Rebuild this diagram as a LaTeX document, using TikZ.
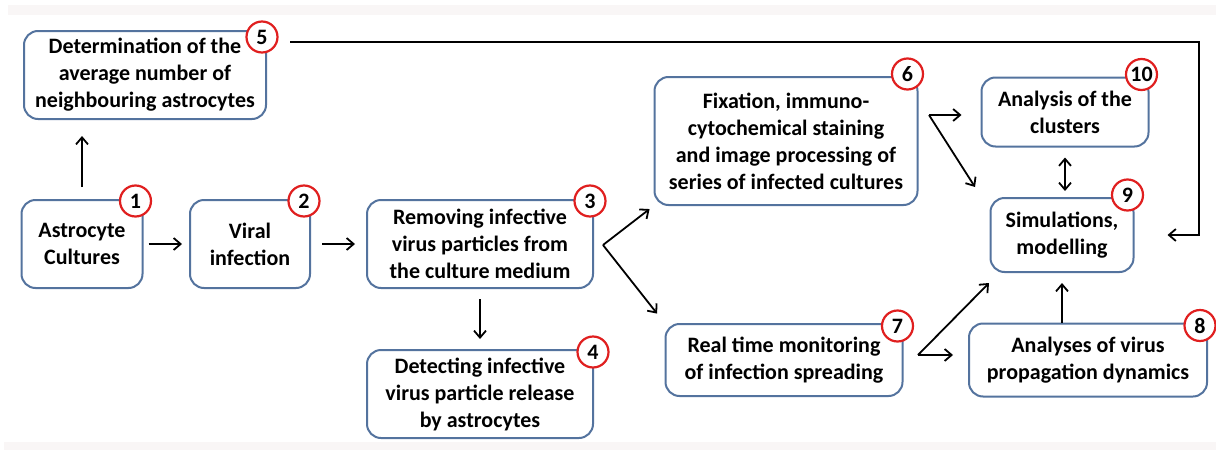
\documentclass[tikz,border=0pt]{standalone}
\usepackage{fontspec}
\setmainfont{Carlito}
\usepackage{tikz}
\usetikzlibrary{positioning, arrows.meta}

\begin{document}
\begin{tikzpicture}[x=1pt, y=-1pt,
        box/.style={draw=boxcolor, line width=2pt, rounded corners=14pt, fill=white, align=center, inner sep=0pt, font=\bfseries\fontsize{22}{27}\selectfont},
        badge/.style={draw=badgecolor, line width=2.2pt, circle, fill=white, inner sep=0pt, minimum size=31pt, font=\bfseries\fontsize{22}{22}\selectfont},
        arr/.style={-{Straight Barb[length=7pt, width=12pt]}, line width=1.8pt},
        twoarr/.style={{Straight Barb[length=7pt, width=12pt]}-{Straight Barb[length=7pt, width=12pt]}, line width=1.8pt}]
        % Define some colors for convenience
        \definecolor{boxcolor}{rgb}{0.33,0.45,0.62} % box border color
        \definecolor{badgecolor}{rgb}{0.88,0.12,0.12} % number circle color
        \definecolor{bandcolor}{rgb}{0.975,0.965,0.965} % light band color

        % Canvas
        \useasboundingbox (0,0) rectangle (1216,450);
        \fill[bandcolor] (8,5) rectangle (1216,15); % top band
        \fill[bandcolor] (4,442) rectangle (1216,450); % bottom band

        % Boxes
        \node[box, minimum width=242pt, minimum height=88pt] (b5) at (145,75) {Determination of the\\average number of\\neighbouring astrocytes}; % step 5
        \node[box, minimum width=121pt, minimum height=88pt] (b1) at (82,244) {Astrocyte\\Cultures}; % step 1
        \node[box, minimum width=120pt, minimum height=88pt] (b2) at (250,244) {Viral\\infection}; % step 2
        \node[box, minimum width=226pt, minimum height=88pt] (b3) at (480,244) {Removing infective\\virus particles from\\the culture medium}; % step 3
        \node[box, minimum width=226pt, minimum height=88pt] (b4) at (480,394) {Detecting infective\\virus particle release\\by astrocytes}; % step 4
        \node[box, minimum width=263pt, minimum height=128pt] (b6) at (786,141) {Fixation, immuno-\\cytochemical staining\\and image processing of\\series of infected cultures}; % step 6
        \node[box, minimum width=237pt, minimum height=72pt] (b7) at (784,360) {Real time monitoring\\of infection spreading}; % step 7
        \node[box, minimum width=238pt, minimum height=73pt] (b8) at (1088,360) {Analyses of virus\\propagation dynamics}; % step 8
        \node[box, minimum width=143pt, minimum height=74pt] (b9) at (1062,235) {Simulations,\\modelling}; % step 9
        \node[box, minimum width=167pt, minimum height=69pt] (b10) at (1065,112) {Analysis of the\\clusters}; % step 10

        % Number circles
        \node[badge] (n5) at ([shift={(-5,7)}]b5.north east) {5};
        \node[badge] (n1) at ([shift={(-8,2)}]b1.north east) {1};
        \node[badge] (n2) at ([shift={(-7,2)}]b2.north east) {2};
        \node[badge] (n3) at ([shift={(-4,2)}]b3.north east) {3};
        \node[badge] (n4) at ([shift={(-1,3)}]b4.north east) {4};
        \node[badge] (n6) at ([shift={(-11,-2)}]b6.north east) {6};
        \node[badge] (n7) at ([shift={(-6,3)}]b7.north east) {7};
        \node[badge] (n8) at ([shift={(-8,3)}]b8.north east) {8};
        \node[badge] (n9) at ([shift={(-7,-2)}]b9.north east) {9};
        \node[badge] (n10) at ([shift={(-8,-2)}]b10.north east) {10};

        % Split points and loose ends
        \coordinate (s3) at (603,245);
        \coordinate (s6) at (929,115);
        \coordinate (e6) at (975,187);
        \coordinate (s7) at (918,355);
        \coordinate (e7) at (989,283);
        \coordinate (c5) at (290,42);
        \coordinate (rt) at (1199,42);

        % Arrows
        \draw[arr, shorten <=12pt, shorten >=16pt] (b1.north) -- (b1.north |- b5.south); % 1 to 5
        \draw[arr, shorten <=5pt, shorten >=7pt] (b1) -- (b2); % 1 to 2
        \draw[arr, shorten <=11pt, shorten >=11pt] (b2) -- (b3); % 2 to 3
        \draw[arr, shorten <=10pt, shorten >=10pt] (b3) -- (b4); % 3 to 4
        \draw[arr, shorten >=5pt] (s3) -- (b6.south west); % 3 to 6
        \draw[arr, shorten >=12pt] (s3) -- (b7.north west); % 3 to 7
        \draw[arr, shorten >=19pt] (s6) -- (s6 -| b10.west); % 6 to 10
        \draw[arr] (s6) -- (e6); % 6 to 9
        \draw[arr, shorten >=15pt] (s7) -- (s7 -| b8.west); % 7 to 8
        \draw[arr] (s7) -- (e7); % 7 to 9
        \draw[arr, shorten >=10pt] (b9.south |- b8.north) -- (b9.south); % 8 to 9
        \draw[twoarr, shorten <=10pt, shorten >=6pt] (b10.south) -- (b10.south |- b9.north); % 9 and 10
        \draw[arr, shorten >=33pt] (c5) -- (rt) |- (b9.east); % 5 to 9
\end{tikzpicture}
\end{document}
